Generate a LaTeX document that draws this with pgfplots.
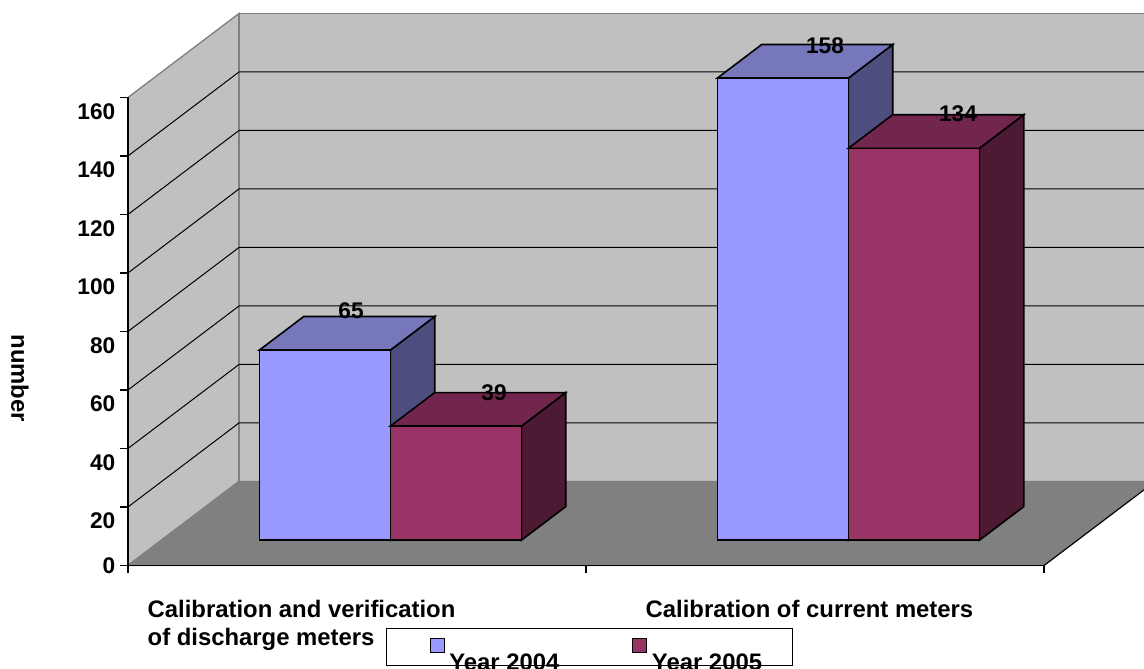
\documentclass[border=0pt]{standalone}
\usepackage{fontspec}
\setmainfont{Liberation Sans}
\usepackage{pgfplots}
\pgfplotsset{compat=1.18}

\definecolor{wall}{HTML}{C0C0C0}
\definecolor{floorc}{HTML}{808080}
\definecolor{aFront}{HTML}{9999FF}
\definecolor{aTop}{HTML}{7777BB}
\definecolor{aSide}{HTML}{4D4D80}
\definecolor{bFront}{HTML}{993366}
\definecolor{bTop}{HTML}{73264D}
\definecolor{bSide}{HTML}{4D1A33}

% 1 image pixel = 0.75pt
\newcommand{\digitfont}{\bfseries\fontsize{17pt}{21pt}\selectfont}
\newcommand{\labelfont}{\bfseries\fontsize{17.9pt}{21pt}\selectfont}

% oblique projection: x position, depth (0..100), value
\newcommand{\face}[2]{\addplot[forget plot,#1] table[row sep=\\,x expr=\thisrow{x}+1.11*\thisrow{d},y expr=\thisrow{v}+0.2872*\thisrow{d}] {x d v\\ #2} --cycle;}
\newcommand{\edge}[2]{\addplot[forget plot,#1] table[row sep=\\,x expr=\thisrow{x}+1.11*\thisrow{d},y expr=\thisrow{v}+0.2872*\thisrow{d}] {x d v\\ #2};}

% #1,#2 x range, #3 value, #4 colour prefix
\newcommand{\threedbar}[4]{
  \face{draw=black,fill=#4Side,line width=1.2pt}{#2 30 0\\ #2 70 0\\ #2 70 #3\\ #2 30 #3\\}
  \face{draw=black,fill=#4Top,line width=1.2pt}{#1 30 #3\\ #2 30 #3\\ #2 70 #3\\ #1 70 #3\\}
  \face{draw=black,fill=#4Front,line width=1.2pt}{#1 30 0\\ #2 30 0\\ #2 30 #3\\ #1 30 #3\\}
}

\begin{document}
\begin{tikzpicture}[font=\digitfont]
\clip (0pt,0pt) rectangle (858pt,501pt);
\begin{axis}[
    at={(96pt,76.9pt)},anchor=south west,
    scale only axis,
    width=687pt,height=351pt,
    clip=false,
    axis on top,
    axis lines=left,
    axis line style={-,black,line width=0.9pt},
    xmin=0,xmax=916,ymin=0,ymax=160,
    xtick={0,458,916},
    xticklabels=\empty,
    extra x ticks={15,513},
    extra x tick labels={Calibration and verification\\of discharge meters,Calibration of current meters},
    extra x tick style={major tick length=0pt},
    ytick={20,40,...,160},
    extra y ticks={0},
    extra y tick style={tick label style={yshift=10.5pt}},
    y tick label style={yshift=-10.5pt,font=\digitfont},
    x tick label style={anchor=north west,yshift=-22.5pt,align=left,font=\labelfont},
    /pgf/number format/assume math mode=true,
    major tick length=6pt,
    tick align=outside,
    tick style={black,line width=0.8pt},
    ylabel={number},
    every axis y label/.style={at={(axis cs:-108,64)},rotate=-90,anchor=center,font=\labelfont},
    legend columns=2,
    legend style={at={(axis cs:258,-21.4)},anchor=north west,draw=black,
      line width=0.8pt,inner xsep=32.25pt,inner ysep=7pt,column sep=4.5pt,
      font=\labelfont},
  ]
  % walls and floor
  \face{fill=wall,draw=floorc,line width=1pt}{0 0 0\\ 0 100 0\\ 0 100 160\\ 0 0 160\\}
  \face{fill=wall,draw=floorc,line width=1pt}{0 100 0\\ 916 100 0\\ 916 100 160\\ 0 100 160\\}
  \face{fill=floorc,draw=floorc,line width=1pt}{0 0 0\\ 916 0 0\\ 916 100 0\\ 0 100 0\\}
  \edge{black,line width=0.8pt}{916 0 0\\ 916 100 0\\}

  % gridlines on the walls
  \pgfplotsinvokeforeach{20,40,...,140}{
    \edge{black,line width=0.75pt}{0 0 #1\\ 0 100 #1\\ 916 100 #1\\}
  }

  % bars
  \threedbar{98}{229}{65}{a}
  \threedbar{229}{360}{39}{b}
  \threedbar{556}{687}{158}{a}
  \threedbar{687}{818}{134}{b}

  % value labels
  \node[font=\digitfont] at (axis cs:223,87.2) {65};
  \node[font=\digitfont] at (axis cs:366,59.1) {39};
  \node[font=\digitfont] at (axis cs:697,177.8) {158};
  \node[font=\digitfont] at (axis cs:830,154.5) {134};

  \addlegendimage{legend image code/.code={\draw[fill=aFront,line width=0.8pt] (0pt,0pt) rectangle (10.5pt,10.5pt);}}
  \addlegendentry{\makebox[127.7pt][l]{\hspace*{-3pt}\smash{\raisebox{-14pt}{Year 2004}}}}
  \addlegendimage{legend image code/.code={\draw[fill=bFront,line width=0.8pt] (0pt,0pt) rectangle (10.5pt,10.5pt);}}
  \addlegendentry{\makebox[68.5pt][l]{\hspace*{-3pt}\smash{\raisebox{-14pt}{Year 2005}}}}
\end{axis}
\end{tikzpicture}
\end{document}
